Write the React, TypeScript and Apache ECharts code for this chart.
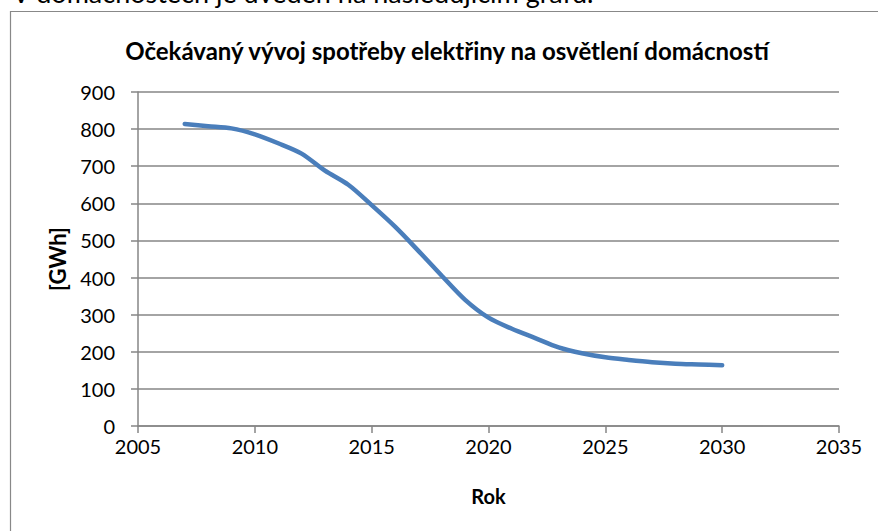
import React, { useEffect, useRef } from "react";
import * as echarts from "echarts";

const years = [2007, 2008, 2009, 2010, 2011, 2012, 2013, 2014, 2015, 2016, 2017, 2018, 2019, 2020, 2021, 2022, 2023, 2024, 2025, 2026, 2027, 2028, 2029, 2030];
const consumption = [814, 808, 802, 786, 762, 734, 688, 650, 595, 537, 472, 405, 340, 292, 262, 237, 212, 196, 185, 178, 172, 168, 166, 164];
const titleText = "Očekávaný vývoj spotřeby elektřiny na osvětlení domácností";
const introText = "V domácnostech je uveden na následujícím grafu.";
const yName = "[GWh]";
const xName = "Rok";

const FONT = "Lato";

export default function App() {
  const ref = useRef<HTMLDivElement>(null);
  useEffect(() => {
    if (!ref.current) return;
    const chart = echarts.init(ref.current, null, { renderer: "svg" });
    const data = years.map((y, i) => [y, consumption[i]]);
    chart.setOption({
      animation: false,
      backgroundColor: "#fff",
      textStyle: { fontFamily: FONT },
      title: {
        text: titleText,
        left: 442,
        textAlign: "center",
        top: 33,
        textStyle: { fontFamily: FONT, fontWeight: "bold", fontSize: 24, color: "#000" },
      },
      graphic: [
        {
          type: "rect",
          shape: { x: 10.5, y: 11.5, width: 880, height: 540 },
          style: { fill: "none", stroke: "#888", lineWidth: 1.2 },
          silent: true,
        },
        {
          type: "text",
          x: 12,
          y: 6,
          style: { text: introText, font: `27px ${FONT}`, fill: "#000", textVerticalAlign: "bottom" },
          silent: true,
        },
      ],
      grid: { left: 138, right: 39, top: 92, bottom: 105, containLabel: false },
      xAxis: {
        type: "value",
        min: 2005,
        max: 2035,
        interval: 5,
        name: xName,
        nameLocation: "middle",
        nameGap: 60,
        nameTextStyle: { fontFamily: FONT, fontWeight: "bold", fontSize: 20, color: "#000" },
        axisLine: { show: true, lineStyle: { color: "#868686", width: 1.5 } },
        axisTick: { show: true, length: 7, lineStyle: { color: "#868686", width: 1.5 } },
        axisLabel: { fontSize: 20, color: "#000", fontFamily: FONT, margin: 10, formatter: (v: number) => String(v) },
        splitLine: { show: false },
      },
      yAxis: {
        type: "value",
        min: 0,
        max: 900,
        interval: 100,
        name: yName,
        nameLocation: "middle",
        nameRotate: 90,
        nameGap: 70,
        nameTextStyle: { fontFamily: FONT, fontWeight: "bold", fontSize: 22, color: "#000" },
        axisLine: { show: true, lineStyle: { color: "#868686", width: 1.5 } },
        axisTick: { show: true, length: 7, lineStyle: { color: "#868686", width: 1.5 } },
        axisLabel: { fontSize: 20, color: "#000", fontFamily: FONT, margin: 23 },
        splitLine: { show: true, lineStyle: { color: "#868686", width: 1.5 } },
      },
      series: [
        {
          type: "line",
          data,
          smooth: 0.3,
          showSymbol: false,
          symbol: "none",
          lineStyle: { color: "#4A7EBB", width: 4.5, cap: "round" },
        },
      ],
    });
    return () => chart.dispose();
  }, []);
  return <div ref={ref} style={{ position: "fixed", left: 0, top: 0, width: 878, height: 531 }} />;
}
